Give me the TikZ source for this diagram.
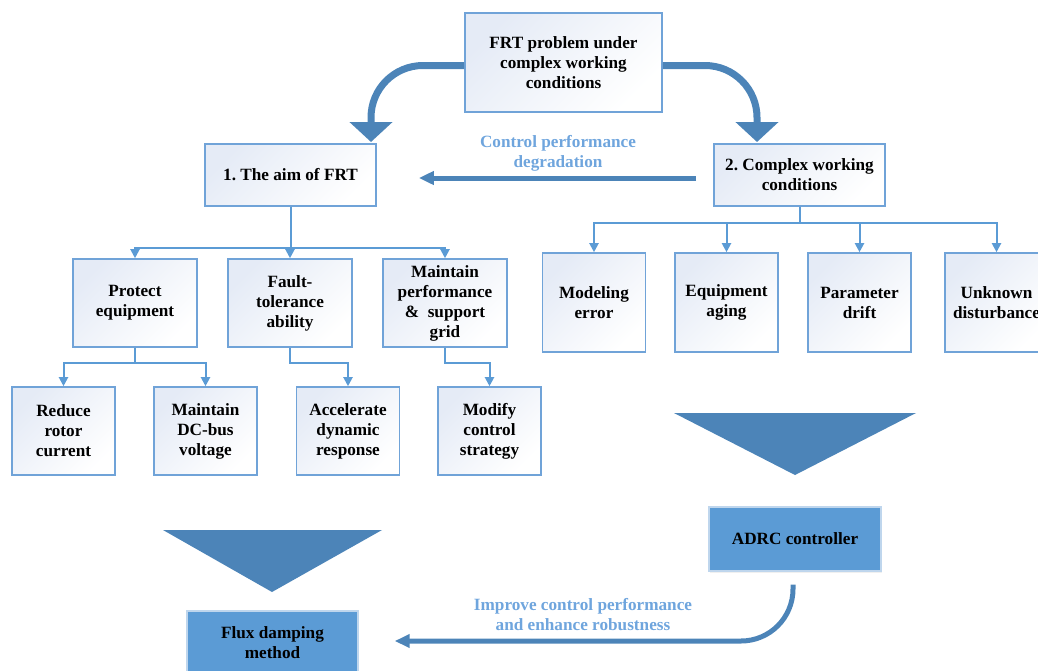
\documentclass[tikz,border=0pt]{standalone}
\usepackage{fontspec}
\setmainfont{Liberation Serif}
\usetikzlibrary{arrows.meta,shadows}
\definecolor{boxline}{RGB}{112,163,216}
\definecolor{boxtop}{RGB}{229,235,246}
\definecolor{conn}{RGB}{91,155,213}
\definecolor{steel}{RGB}{76,132,184}
\definecolor{solid}{RGB}{91,155,213}
\definecolor{label}{RGB}{111,165,221}

\begin{document}
\begin{tikzpicture}[x=0.5pt,y=-0.5pt,
    every node/.style={font=\fontsize{8.6}{10}\selectfont\bfseries\frenchspacing, align=center},
    gbox/.style={draw=boxline, line width=0.8pt, top color=boxtop, bottom color=white, shading angle=45, inner sep=0pt},
    bbox/.style={draw=boxline!45, fill=solid, line width=0.7pt, inner sep=0pt, drop shadow={opacity=0.12, shadow xshift=0.6pt, shadow yshift=-0.9pt}},
    link/.style={draw=conn, line width=1pt, -{Triangle[width=4.5pt,length=4.5pt]}},
    bigarrow/.style={draw=steel, line width=3.5pt, -{Triangle[width=21pt,length=10pt]}},
    midarrow/.style={draw=steel, line width=2.5pt, -{Triangle[width=6.5pt,length=7.5pt]}}]
    \useasboundingbox (0,0) rectangle (1038,670);

    \node[gbox, minimum width=98.5pt, minimum height=49.5pt] (frt) at (563.5,62.5) {FRT problem under\\complex working\\conditions};
    \node[gbox, minimum width=85.5pt, minimum height=31pt] (aim) at (290.5,175) {1. The aim of FRT};
    \node[gbox, minimum width=85.5pt, minimum height=31pt] (cplx) at (799.5,175) {2. Complex working\\conditions};

    \node[gbox, minimum width=62pt, minimum height=44pt] (prot) at (135,303) {Protect\\equipment};
    \node[gbox, minimum width=62pt, minimum height=44pt] (fault) at (290,303) {Fault-\\tolerance\\ability};
    \node[gbox, minimum width=62pt, minimum height=44pt] (maint) at (445,303) {Maintain\\performance\\\&~~support\\grid};

    \node[gbox, minimum width=51.5pt, minimum height=44pt] (reduce) at (63.5,431) {Reduce\\rotor\\current};
    \node[gbox, minimum width=51.5pt, minimum height=44pt] (dcbus) at (205.5,431) {Maintain\\DC-bus\\voltage};
    \node[gbox, minimum width=51.5pt, minimum height=44pt] (accel) at (348,431) {Accelerate\\dynamic\\response};
    \node[gbox, minimum width=51.5pt, minimum height=44pt] (modify) at (489.5,431) {Modify\\control\\strategy};

    \node[gbox, minimum width=51.5pt, minimum height=49.5pt] (model) at (594,302.5) {Modeling\\error};
    \node[gbox, minimum width=51.5pt, minimum height=49.5pt] (aging) at (726.5,302.5) {Equipment\\aging};
    \node[gbox, minimum width=51.5pt, minimum height=49.5pt] (drift) at (859.5,302.5) {Parameter\\drift};
    \node[gbox, minimum width=51.5pt, minimum height=49.5pt] (unknown) at (996.5,302.5) {Unknown\\disturbance};

    \node[bbox, minimum width=86pt, minimum height=32pt] (adrc) at (795,539) {ADRC controller};
    \node[bbox, minimum width=85.5pt, minimum height=32pt] (flux) at (272.5,643) {Flux damping\\method};

    \coordinate (aimtip) at (371,142); \coordinate (cplxtip) at (757,142);
    \draw[bigarrow, rounded corners=26pt] ([yshift=-1.5pt]frt.west) -| (aimtip);
    \draw[bigarrow, rounded corners=26pt] ([yshift=-1.5pt]frt.east) -| (cplxtip);

    \draw[midarrow] ([xshift=-8.5pt,yshift=-1.5pt]cplx.west) -- ([xshift=21pt,yshift=-1.5pt]aim.east);
    \node[text=label] (degr) at (558,153.5) {Control performance\\degradation};

    \foreach \b in {prot,fault,maint} \draw[link] (aim.south) -- ++(0,41) -| (\b.north);
    \foreach \b in {reduce,dcbus} \draw[link] (prot.south) -- ++(0,15) -| (\b.north);
    \draw[link] (fault.south) -- ++(0,15) -| (accel.north);
    \draw[link] (maint.south) -- ++(0,15) -| (modify.north);
    \foreach \b in {model,aging,drift,unknown} \draw[link] (cplx.south) -- ++(0,16) -| (\b.north);

    \fill[steel] (674,413) -- (916,413) -- (795,475) -- cycle;
    \fill[steel] (163,530) -- (382,530) -- (272,592) -- cycle;

    \draw[midarrow, rounded corners=26pt] ([xshift=-1pt,yshift=-6.5pt]adrc.south) |- ([xshift=18pt,yshift=1pt]flux.east);
    \node[text=label] (impr) at (583,614.5) {Improve control performance\\and enhance robustness};
\end{tikzpicture}
\end{document}
